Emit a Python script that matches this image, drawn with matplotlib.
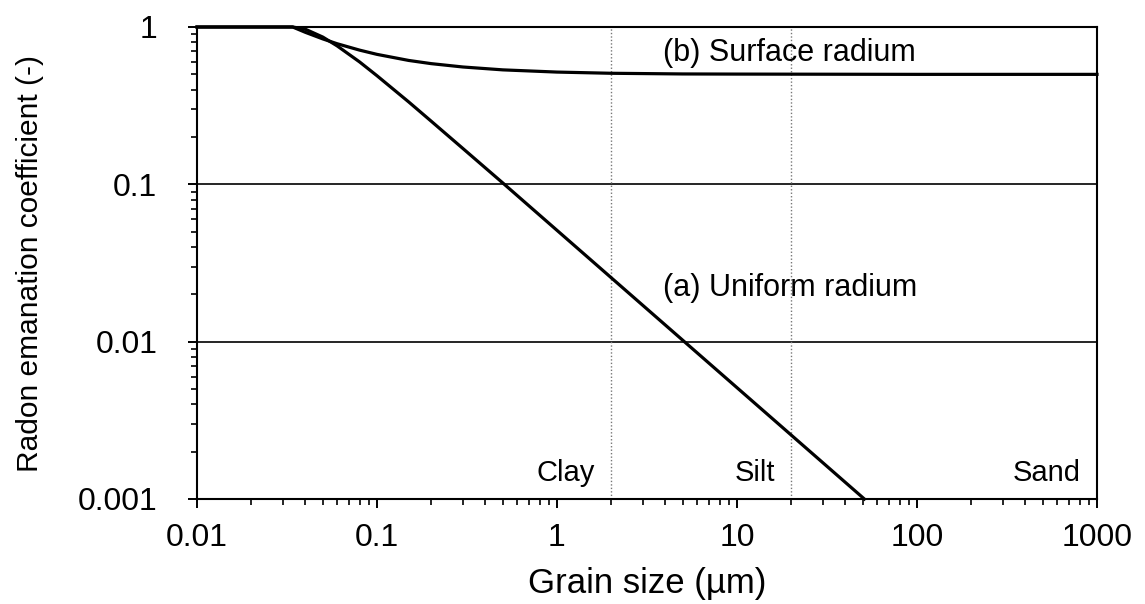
import matplotlib
matplotlib.use("Agg")
import matplotlib.pyplot as plt
from matplotlib.ticker import LogLocator, NullFormatter, FixedLocator, FixedFormatter

plt.rcParams['font.family'] = ['Liberation Sans', 'DejaVu Sans']

# grain size (um) and emanation coefficient
grain_uniform = [0.01, 0.034, 0.04, 0.05, 0.06, 0.08, 0.1, 0.15, 0.2, 0.3, 0.5, 1, 2, 5, 10, 20, 51]
emanation_uniform = [1.0, 1.0, 0.968, 0.863, 0.759, 0.60, 0.49, 0.334, 0.252, 0.169, 0.102,
                     0.051, 0.0255, 0.0102, 0.0051, 0.00255, 0.001]

grain_surface = [0.01, 0.034, 0.04, 0.05, 0.06, 0.08, 0.1, 0.15, 0.2, 0.3, 0.5, 1, 2, 5, 10, 100, 1000]
emanation_surface = [1.0, 1.0, 0.925, 0.84, 0.783, 0.713, 0.67, 0.613, 0.585, 0.557, 0.534,
                     0.517, 0.508, 0.503, 0.502, 0.5, 0.5]

x_ticks = [0.01, 0.1, 1, 10, 100, 1000]
x_tick_labels = ['0.01', '0.1', '1', '10', '100', '1000']
y_ticks = [0.001, 0.01, 0.1, 1]
y_tick_labels = ['0.001', '0.01', '0.1', '1']

grid_levels = [0.01, 0.1]
class_bounds = [2, 20, 1000]
class_names = ['Clay', 'Silt', 'Sand']

curve_labels = ['(b) Surface radium', '(a) Uniform radium']
curve_label_x = [3.9, 3.9]
curve_label_y = [0.68, 0.022]

fig = plt.figure(figsize=(11.45, 6.04), dpi=100)
ax = fig.add_axes([197 / 1145, 1 - 499 / 604, 900 / 1145, 472 / 604])

ax.set_xscale('log')
ax.set_yscale('log')
ax.set_xlim(0.01, 1000)
ax.set_ylim(0.001, 1)

# horizontal reference lines and class boundaries
for lev in grid_levels:
    ax.axhline(lev, color='black', lw=1.2, zorder=1)
for b in class_bounds[:-1]:
    ax.axvline(b, color='#777777', lw=1.0, ls=(0, (1, 1.5)), zorder=1)

ax.plot(grain_uniform, emanation_uniform, color='black', lw=2.3, zorder=3, clip_on=False)
ax.plot(grain_surface, emanation_surface, color='black', lw=2.3, zorder=3, clip_on=False)

for txt, x, y in zip(curve_labels, curve_label_x, curve_label_y):
    ax.text(x, y, txt, fontsize=22, ha='left', va='center')

for b, name in zip(class_bounds, class_names):
    ax.annotate(name, xy=(b, 0.001), xytext=(-16, 12), textcoords='offset pixels',
                ha='right', va='bottom', fontsize=21)

ax.xaxis.set_major_locator(FixedLocator(x_ticks))
ax.xaxis.set_major_formatter(FixedFormatter(x_tick_labels))
ax.yaxis.set_major_locator(FixedLocator(y_ticks))
ax.yaxis.set_major_formatter(FixedFormatter(y_tick_labels))
ax.xaxis.set_minor_locator(LogLocator(base=10, subs=range(2, 10), numticks=20))
ax.yaxis.set_minor_locator(LogLocator(base=10, subs=range(2, 10), numticks=20))
ax.xaxis.set_minor_formatter(NullFormatter())
ax.yaxis.set_minor_formatter(NullFormatter())

ax.tick_params(which='major', direction='out', length=6.5, width=1.4, labelsize=23)
ax.tick_params(which='minor', direction='out', length=4, width=1.2)
ax.tick_params(axis='x', which='major', pad=11)
ax.tick_params(axis='y', which='major', pad=22)
ax.tick_params(top=False, right=False, which='both')

for s in ax.spines.values():
    s.set_linewidth(1.5)
    s.set_color('black')

ax.set_xlabel('Grain size (µm)', fontsize=25)
ax.set_ylabel('Radon emanation coefficient (-)', fontsize=21.5)
ax.xaxis.set_label_coords(0.5, -0.145)
ax.yaxis.set_label_coords(-0.170, 0.5)

fig.savefig('out.png', dpi=100)
